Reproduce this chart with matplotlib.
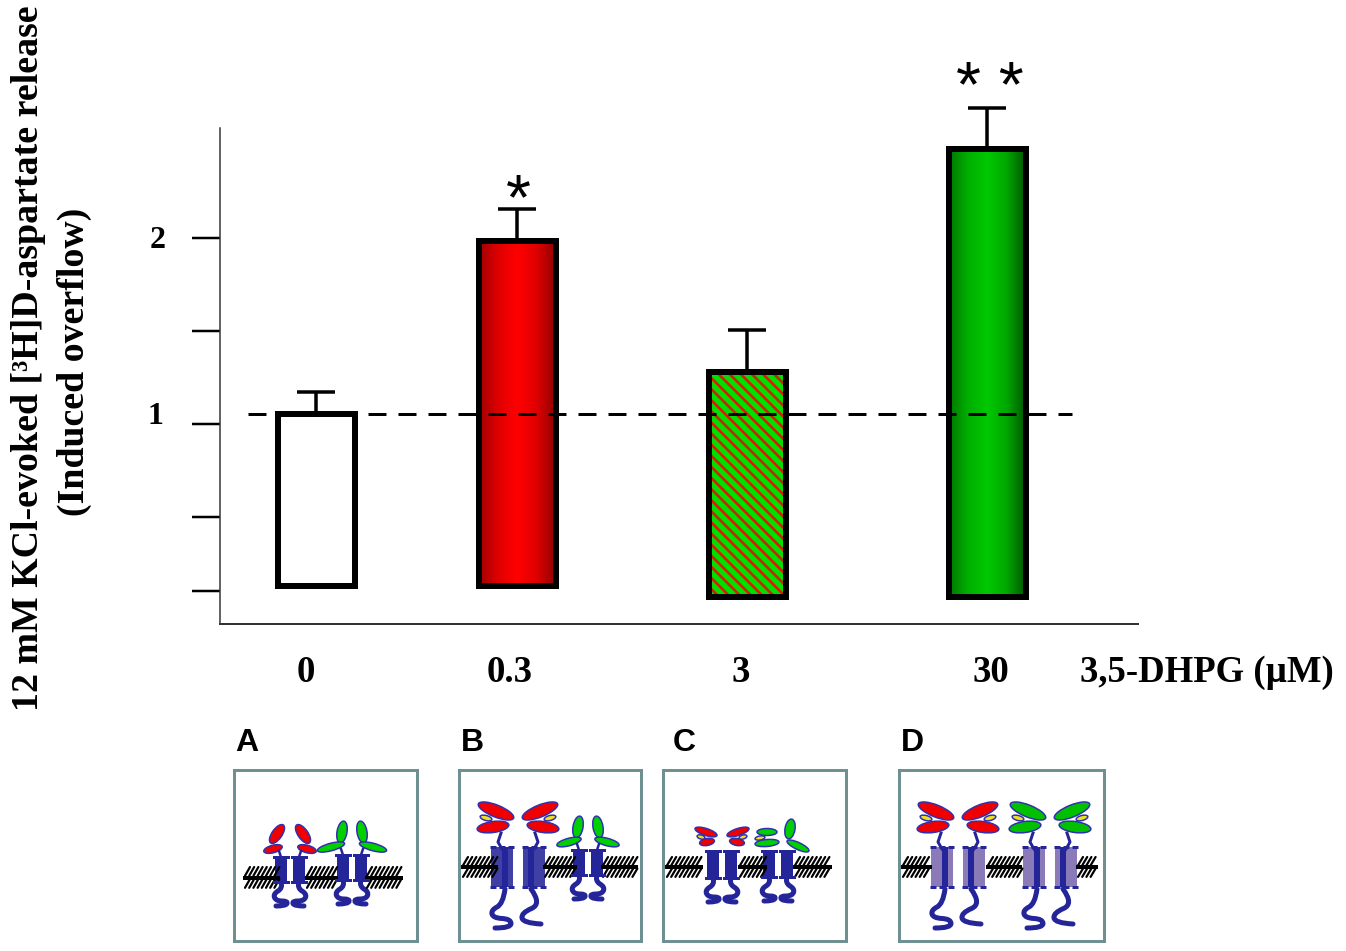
import matplotlib
matplotlib.use('Agg')
import matplotlib.pyplot as plt
import numpy as np
from matplotlib.patches import Ellipse, Rectangle, PathPatch
from matplotlib.path import Path

W, H = 1346, 951
PX = 0.72  # one pixel in points at dpi 100

doses = ['0', '0.3', '3', '30']
bar_tops = [1.054, 1.984, 1.28, 2.48]
bar_bottoms = [0.129, 0.129, 0.07, 0.07]
err_tops = [1.17, 2.156, 1.505, 2.70]
baseline = 1.055
y_ticks = [0.1, 0.5, 1.0, 1.5, 2.0]

bar_x = [316, 517, 747, 987]
dose_x = [306, 510, 741, 991]
bar_w = 77

plt.rcParams['font.family'] = ['Liberation Serif', 'DejaVu Serif']
plt.rcParams['font.weight'] = 'bold'
plt.rcParams['hatch.linewidth'] = 1.9

fig = plt.figure(figsize=(W / 100, H / 100), dpi=100)
ax = fig.add_axes([220 / W, 1 - 624 / H, (1138 - 220) / W, (624 - 128) / H])
ax.set_xlim(220, 1138)
ax.set_ylim(-0.0753, 2.591)
ax.spines['top'].set_visible(False)
ax.spines['right'].set_visible(False)
ax.spines['left'].set_linewidth(1.5 * PX)
ax.spines['bottom'].set_linewidth(2 * PX)
ax.spines['left'].set_color('#333333')
ax.spines['bottom'].set_color('#333333')
ax.set_yticks(y_ticks)
ax.set_yticklabels([])
ax.tick_params(axis='y', length=28 * PX, width=2.5 * PX)
ax.set_xticks([])

# the top error bar rises above the axis, so clipping has to go
err = ax.errorbar(bar_x, bar_tops, yerr=[np.zeros(4), np.array(err_tops) - np.array(bar_tops)],
                  fmt='none', ecolor='black', elinewidth=3.5 * PX, capsize=19 * PX,
                  capthick=3.5 * PX, zorder=1)
for art in err.lines[1] + err.lines[2]:
    art.set_clip_on(False)


def gradient_bar(i, colors):
    h = bar_tops[i] - bar_bottoms[i]
    rect = Rectangle((bar_x[i] - bar_w / 2, bar_bottoms[i]), bar_w, h,
                     transform=ax.transData, fc='none', ec='none')
    ax.add_patch(rect)
    rgb = np.array([matplotlib.colors.to_rgb(c) for c in colors])
    pos = np.linspace(0, 1, len(colors))
    t = np.linspace(0, 1, 80)
    img = np.stack([np.interp(t, pos, rgb[:, k]) for k in range(3)], axis=1)[None, :, :]
    im = ax.imshow(img, extent=[bar_x[i] - bar_w / 2, bar_x[i] + bar_w / 2,
                                bar_bottoms[i], bar_tops[i]],
                   aspect='auto', zorder=2, interpolation='bilinear')
    im.set_clip_path(rect)


# white control bar
ax.bar(bar_x[0], bar_tops[0] - bar_bottoms[0], bar_w, bottom=bar_bottoms[0],
       color='white', zorder=2)
gradient_bar(1, ['#a00000', '#e00000', '#ff0000', '#e00000', '#900000'])
# striped bar: the hatch takes the edge colour, so the outline comes separately
ax.bar(bar_x[2], bar_tops[2] - bar_bottoms[2], bar_w, bottom=bar_bottoms[2],
       facecolor='#00e000', edgecolor='#d02000', hatch='\\\\\\', linewidth=0, zorder=2)
gradient_bar(3, ['#007800', '#00b000', '#00c800', '#00a800', '#005800'])
ax.bar(bar_x, np.array(bar_tops) - np.array(bar_bottoms), bar_w, bottom=bar_bottoms,
       fill=False, edgecolor='black', linewidth=6 * PX, zorder=3)
ax.set_xlim(220, 1138)
ax.set_ylim(-0.0753, 2.591)

ax.plot([248, 1072], [baseline, baseline], color='black', lw=3 * PX,
        ls=(0, (6, 4)), zorder=4)

# tick and axis text
for x, s in zip(dose_x, doses):
    ax.text(x, -0.335, s, fontsize=26.5, ha='center', va='center')
ax.text(1207, -0.335, '3,5-DHPG (µM)', fontsize=26.5, ha='center', va='center')
ax.text(158, 1.985, '2', fontsize=23, ha='center', va='center')
ax.text(155, 1.04, '1', fontsize=23, ha='center', va='center')
ax.text(518, 2.19, '*', fontsize=46, ha='center', va='center', family='Liberation Sans', weight='normal')
ax.text(990, 2.795, '* *', fontsize=46, ha='center', va='center', family='Liberation Sans', weight='normal')

fig.text(29 / W, 1 - 358 / H, '12 mM KCl-evoked [³H]D-aspartate release', rotation=90,
         fontsize=27.3, ha='center', va='center')
fig.text(74 / W, 1 - 362 / H, '(Induced overflow)', rotation=90,
         fontsize=27.3, ha='center', va='center')

# receptor cartoons, drawn in image pixels on a full-figure overlay
ov = fig.add_axes([0, 0, 1, 1], zorder=5)
ov.set_xlim(0, W)
ov.set_ylim(H, 0)
ov.axis('off')
ov.patch.set_alpha(0)

NAVY = '#25259a'
LOBE_EDGE = '#3030b0'
YELLOW = '#f0e020'


def lobe(x, y, w, h, angle, color):
    ov.add_patch(Ellipse((x, y), w, h, angle=angle, fc=color, ec=LOBE_EDGE, lw=1.5 * PX))


def smooth(pts, lw):
    verts = [pts[0]]
    codes = [Path.MOVETO]
    for a, b in zip(pts[1:-1], pts[2:]):
        mid = ((a[0] + b[0]) / 2, (a[1] + b[1]) / 2)
        verts += [a, mid]
        codes += [Path.CURVE3, Path.CURVE3]
    verts[-1] = pts[-1]
    ov.add_patch(PathPatch(Path(verts, codes), fc='none', ec=NAVY, lw=lw * PX,
                           capstyle='round', joinstyle='round'))


def membrane(x0, x1, y0, y1):
    h = (y1 - y0) * 0.42
    for y in (y0, (y0 + y1) / 2 + 1.5):
        for x in np.arange(x0, x1 - 4, 4.2):
            ov.plot([x, x + 5], [y + h, y], color='black', lw=2.2 * PX, solid_capstyle='round')
    ov.plot([x0, x1 - 2], [y0 + (y1 - y0) * 0.5] * 2, color='black', lw=4 * PX)


def tails_small(cx, y0, h):
    for s in (-1, 1):
        smooth([(cx + s * 9, y0 + h), (cx + s * 7, y0 + h + 6), (cx + s * 17, y0 + h + 12),
                (cx + s * 14, y0 + h + 19), (cx + s * 2, y0 + h + 19), (cx + s * 4, y0 + h + 24),
                (cx + s * 14, y0 + h + 24)], 5)


def tm_small(cx, y0, h):
    for s in (-1, 1):
        ov.add_patch(Rectangle((cx + s * 9 - 6, y0), 12, h, fc=NAVY, ec='none'))
        ov.plot([cx + s * 9 - 7, cx + s * 9 + 7], [y0, y0], color=NAVY, lw=3 * PX)
        ov.plot([cx + s * 9 - 7, cx + s * 9 + 7], [y0 + h, y0 + h], color=NAVY, lw=3 * PX)
    tails_small(cx, y0, h)


def open_small(cx, y0, color, upper_angle, upper_x, lower_x, lower_len):
    for s in (-1, 1):
        lobe(cx + s * upper_x, y0 - 23, 22, 10, s * upper_angle, color)
        lobe(cx + s * lower_x, y0 - 8, lower_len, 7.5, s * 15, color)
        ov.plot([cx + s * 9, cx + s * 11], [y0, y0 - 6], color=NAVY, lw=2.5 * PX)
    tm_small(cx, y0, 25)


def closed_small(cx, y0, color):
    for s in (-1, 1):
        lobe(cx + s * 16, y0 - 19, 23, 7, s * -18, color)
        lobe(cx + s * 15, y0 - 9, 15, 7, s * 10, color)
        lobe(cx + s * 21, y0 - 14, 8, 4, s * -15, YELLOW)
    tm_small(cx, y0, 27)


def closed_large(cx, y0, color, pale):
    tm = '#8a7ab8' if pale else '#4040a4'
    for s in (-1, 1):
        lobe(cx + s * 22, y0 - 36, 38, 12, s * -22, color)
        lobe(cx + s * 25, y0 - 20, 32, 11, s * 8, color)
        lobe(cx + s * 32, y0 - 29, 12, 5, s * -15, YELLOW)
        ov.plot([cx + s * 16, cx + s * 20, cx + s * 17], [y0 + 2, y0 - 5, y0 - 14],
                color=NAVY, lw=3 * PX)
        ov.add_patch(Rectangle((cx + s * 16 - 11, y0), 22, 40, fc=tm, ec='none'))
        ov.add_patch(Rectangle((cx + s * 13 - 3, y0), 6, 40, fc=NAVY, ec='none'))
        ov.plot([cx + s * 16 - 12, cx + s * 16 + 12], [y0, y0], color=NAVY, lw=3 * PX, ls=(0, (2, 1)))
        ov.plot([cx + s * 16 - 12, cx + s * 16 + 12], [y0 + 40] * 2, color=NAVY, lw=3 * PX, ls=(0, (2, 1)))
    smooth([(cx - 13, y0 + 42), (cx - 15, y0 + 57), (cx - 27, y0 + 63), (cx - 25, y0 + 71),
            (cx - 7, y0 + 72), (cx - 7, y0 + 81), (cx - 23, y0 + 81)], 5)
    smooth([(cx + 13, y0 + 42), (cx + 24, y0 + 57), (cx + 3, y0 + 66), (cx + 5, y0 + 76),
            (cx + 23, y0 + 77)], 5)


# panel frames and letters
frames = [(234, 417), (459, 641), (663, 846), (899, 1104)]
letters = ['A', 'B', 'C', 'D']
letter_x = [247, 472, 684, 912]
for (x0, x1), c, lx in zip(frames, letters, letter_x):
    ov.add_patch(Rectangle((x0, 770), x1 - x0, 171, fc='white', ec='#6f9093', lw=3 * PX))
    ov.text(lx, 743, c, fontsize=23, family='Liberation Sans', weight='bold',
            ha='center', va='center')

for seg in [(245, 280), (307, 338), (367, 403)]:
    membrane(seg[0], seg[1], 867, 888)
for seg in [(463, 498), (545, 577), (603, 638), (667, 703), (740, 767), (795, 832),
            (903, 932), (988, 1022), (1078, 1098)]:
    membrane(seg[0], seg[1], 857, 877)

# A
open_small(290, 857, '#f00000', 55, 13, 17, 19)
open_small(352, 855, '#00d000', 80, 10, 21, 28)
# B
closed_large(518, 847, '#f00000', False)
open_small(588, 850, '#00d000', 80, 10, 19, 25)
# C
closed_small(722, 851, '#f00000')
lobe(767, 832, 20, 7, 0, '#00d000')
lobe(767, 843, 24, 7, -5, '#00d000')
lobe(760, 838, 10, 4, -10, YELLOW)
lobe(790, 829, 20, 10, 100, '#00d000')
lobe(798, 846, 24, 7, 25, '#00d000')
tm_small(778, 851, 26)
# D
closed_large(958, 847, '#f00000', True)
closed_large(1050, 847, '#00c000', True)

fig.savefig('out.png', dpi=100)
